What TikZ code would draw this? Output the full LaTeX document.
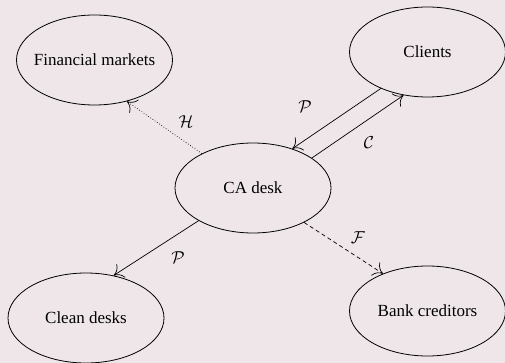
\documentclass[tikz,border=0pt]{standalone}
\usepackage{fontspec}
\setmainfont{Liberation Serif}
\usetikzlibrary{shapes.geometric,arrows.meta}
\definecolor{bg}{RGB}{238,230,233}
\begin{document}
\begin{tikzpicture}[x=1pt,y=-1pt,
  ent/.style={draw,ellipse,line width=0.8pt,minimum width=156pt,minimum height=90pt,inner sep=0pt,font=\fontsize{17}{20}\selectfont},
  conn/.style={line width=0.7pt,-{To[length=9pt,width=16pt]}},
  lab/.style={font=\fontsize{19}{22}\selectfont}]
\fill[bg] (0,0) rectangle (505,363);
\useasboundingbox (0,0) rectangle (505,363);
\node[ent] (fm) at (94.5,60) {\makebox[0pt]{Financial markets}};
\node[ent] (cl) at (427.5,52) {\makebox[0pt]{Clients}};
\node[ent] (ca) at (253,188) {\makebox[0pt]{CA desk}};
\node[ent] (cd) at (86,318) {\makebox[0pt]{Clean desks}};
\node[ent] (bc) at (427.5,311) {\makebox[0pt]{Bank creditors}};
\draw[conn,dotted] (ca.146.6) -- (fm.-52);
\draw[conn] (cl.218.8) -- (ca.45.7);
\draw[conn] (ca.27.3) -- (cl.241.5);
\draw[conn] (ca.211) -- (cd.57);
\draw[conn,dash pattern=on 4pt off 3pt] (ca.-34) -- (bc.140.8);
\node[lab] (lh) at (186,122) {$\mathcal{H}$};
\node[lab] (lp1) at (305,107) {$\mathcal{P}$};
\node[lab] (lc) at (369,143) {$\mathcal{C}$};
\node[lab] (lf) at (358,238) {$\mathcal{F}$};
\node[lab] (lp2) at (178,258) {$\mathcal{P}$};
\end{tikzpicture}
\end{document}
